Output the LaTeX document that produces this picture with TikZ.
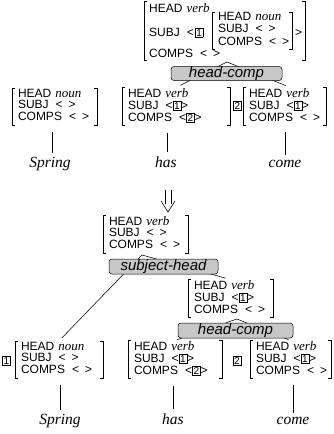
\documentclass[tikz,border=0pt]{standalone}
\usepackage{fontspec}
\setmainfont{Liberation Sans}
\newfontfamily\serif{Liberation Serif}
\newcommand\avmf{\fontsize{12}{10.9}\selectfont}
\newcommand\rulef{\itshape\fontsize{15}{15}\selectfont}
\newcommand\wordf{\serif\itshape\fontsize{15.5}{15}\selectfont}
\newcommand\val[1]{\hspace{4pt}{\serif\itshape\fontsize{13}{10.5}\selectfont #1}}
\newcommand\tg[1]{{\setlength\fboxsep{0.9pt}\setlength\fboxrule{0.6pt}\fbox{\fontsize{10}{9}\selectfont #1}}}
\newcommand\avm[2]{\begin{tabular}{@{\hspace{6pt}}p{#1}@{}}#2\end{tabular}}
\newcommand\mt{<\hspace{6pt}>}
\newcommand\gap{\hspace{7pt}}
\newcommand\avmbrk[1]{%
  \draw[brk] ([xshift=3pt]#1.north west) -- (#1.north west) -- (#1.south west) -- ([xshift=3pt]#1.south west);
  \draw[brk] ([xshift=-3pt]#1.north east) -- (#1.north east) -- (#1.south east) -- ([xshift=-3pt]#1.south east);}
\begin{document}
\begin{tikzpicture}[x=1pt,y=-1pt,
  avm/.style={inner xsep=0pt, inner ysep=1pt, font=\avmf},
  brk/.style={line width=0.6pt},
  tree/.style={line width=0.55pt},
  rulebox/.style={draw, fill=black!22, rounded corners=3pt, inner sep=0pt, line width=0.5pt,
     font=\rulef, text height=10.8pt, text depth=3.2pt},
  word/.style={font=\wordf, inner sep=0pt, anchor=base},
  txt/.style={font=\avmf, inner sep=0pt, anchor=base west},
  tag/.style={inner sep=0pt},
]
\useasboundingbox (0,0) rectangle (333,434);

% ---------- upper tree ----------
\node[txt] (tmh) at (149,12.5) {HEAD\val{verb}};
\node[txt] (tms) at (149,36) {SUBJ\gap<\hspace{1pt}\tg{1}};
\node[avm, inner ysep=0pt] (tin) at (252,30.5) {\fontsize{12}{12.3}\selectfont\avm{74pt}{HEAD\val{noun}\\ SUBJ\gap\mt\\ COMPS\gap\mt}};
\node[txt] (tmg) at (295,36) {>};
\node[txt] (tmc) at (149,57) {COMPS\gap\mt};
\draw[brk] (147,1) -- (144,1) -- (144,60) -- (147,60);
\draw[brk] (302,1) -- (305,1) -- (305,60) -- (302,60);
\avmbrk{tin}
\coordinate (p1) at (227,62);

\node[avm] (a1) at (54.5,106.5) {\avm{79pt}{HEAD\val{noun}\\ SUBJ\gap\mt\\ COMPS\gap\mt}};
\node[avm] (a2) at (176,106.5) {\avm{102pt}{HEAD\val{verb}\\ SUBJ\gap<\tg{1}>\\ COMPS\gap<\tg{2}>}};
\node[tag] (t2a) at (237.5,106) {\tg{2}};
\node[avm] (a3) at (284.5,106.5) {\avm{77pt}{HEAD\val{verb}\\ SUBJ\gap<\tg{1}>\\ COMPS\gap\mt}};
\avmbrk{a1}\avmbrk{a2}\avmbrk{a3}

\draw[tree, shorten >=5pt] (p1) -- (a2.north);
\draw[tree, shorten >=5pt] (p1) -- ([xshift=6pt]a3.north);
\node[rulebox, minimum width=111pt, minimum height=13pt] (hc1) at (226.5,73.5) {head-comp};

\node[word] (w1) at (50,167) {Spring};
\node[word] (w2) at (166,167) {has};
\node[word] (w3) at (285,167) {come};
\draw[tree, shorten <=7pt, shorten >=4pt] ([xshift=2pt]a1.south -| w1.base) -- ([xshift=2pt]w1.north);
\draw[tree, shorten <=7pt, shorten >=4pt] ([xshift=1pt]a2.south -| w2.base) -- ([xshift=1pt]w2.north);
\draw[tree, shorten <=7pt, shorten >=4pt] (a3.south -| w3.base) -- (w3.north);

% ---------- derivation arrow ----------
\coordinate (d1) at (168,190);
\coordinate (d2) at (168,212);
\draw[line width=0.6pt] ([xshift=-3pt]d1) -- ([xshift=-3pt,yshift=8pt]d2)
                         ([xshift=3pt]d1) -- ([xshift=3pt,yshift=8pt]d2);
\draw[line width=0.6pt] ([xshift=-7pt,yshift=11pt]d2) -- (d2) -- ([xshift=7pt,yshift=11pt]d2);

% ---------- lower tree ----------
\node[avm] (bm) at (145.5,234) {\avm{79pt}{HEAD\val{verb}\\ SUBJ\gap\mt\\ COMPS\gap\mt}};
\coordinate (p2) at (142,255);
\node[avm] (rm) at (230.5,298.5) {\avm{79pt}{HEAD\val{verb}\\ SUBJ\gap<\tg{1}>\\ COMPS\gap\mt}};
\coordinate (p3) at (237,319);
\node[avm] (b1) at (59,359.5) {\avm{82pt}{HEAD\val{noun}\\ SUBJ\gap\mt\\ COMPS\gap\mt}};
\node[tag] (t1b) at (6.5,361) {\tg{1}};
\node[avm] (b2) at (175,359.5) {\avm{88pt}{HEAD\val{verb}\\ SUBJ\gap<\tg{1}>\\ COMPS\gap<\tg{2}>}};
\node[tag] (t2b) at (237,361) {\tg{2}};
\node[avm] (b3) at (290.5,359.5) {\avm{75pt}{HEAD\val{verb}\\ SUBJ\gap<\tg{1}>\\ COMPS\gap\mt}};
\avmbrk{bm}\avmbrk{rm}\avmbrk{b1}\avmbrk{b2}\avmbrk{b3}

\draw[tree, shorten >=4pt] (p2) -- (b1.north);
\draw[tree, shorten >=5pt] (p2) -- (rm.north);
\node[rulebox, minimum width=109pt, minimum height=15pt] (sh) at (163.5,266.5) {subject-head};
\draw[tree, shorten >=2pt] (p3) -- (b2.north);
\draw[tree, shorten >=2pt] (p3) -- (b3.north);
\node[rulebox, minimum width=115pt, minimum height=15pt] (hc2) at (235.5,330.5) {head-comp};

\node[word] (v1) at (60,424) {Spring};
\node[word] (v2) at (173,424) {has};
\node[word] (v3) at (293,424) {come};
\draw[tree, shorten <=7pt, shorten >=4pt] (b1.south -| v1.base) -- (v1.north);
\draw[tree, shorten <=7pt, shorten >=4pt] (b2.south -| v2.base) -- (v2.north);
\draw[tree, shorten <=7pt, shorten >=4pt] (b3.south -| v3.base) -- (v3.north);
\end{tikzpicture}
\end{document}
